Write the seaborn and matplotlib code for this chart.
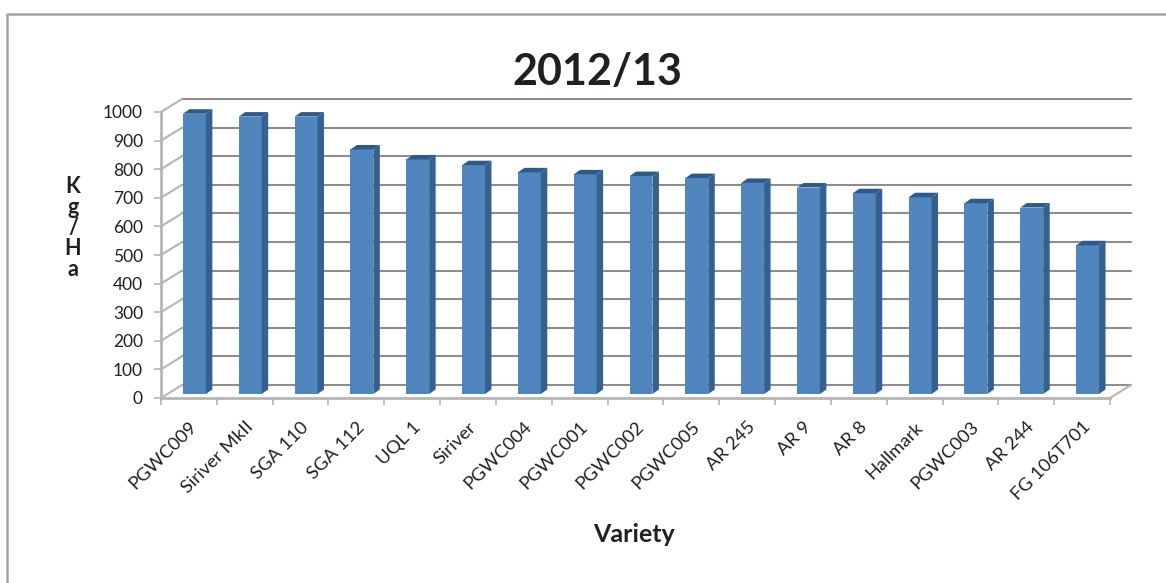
"""Yield per variety, 2012/13, drawn as a pseudo-3D column chart."""

import matplotlib
matplotlib.use("Agg")
import matplotlib.pyplot as plt
from matplotlib.patches import Polygon
from matplotlib.lines import Line2D
import pandas as pd
import seaborn as sns

varieties = ["PGWC009", "Siriver MkII", "SGA 110", "SGA 112", "UQL 1", "Siriver",
             "PGWC004", "PGWC001", "PGWC002", "PGWC005", "AR 245", "AR 9", "AR 8",
             "Hallmark", "PGWC003", "AR 244", "FG 106T701"]
yields = [980, 970, 970, 855, 820, 800, 775, 768, 762, 755, 738, 722, 702, 688, 667, 652, 520]
y_ticks = list(range(0, 1001, 100))

FACE = "#5085bd"
SIDE = "#35618f"
TOP = "#2f5a88"
GRID = "#8f8d8c"
WALL = "#b5b5b5"
TEXT = "#231f20"

W, H = 1166, 583
LEFT, RIGHT, BOTTOM, TOP_PX = 161, 1110, 398, 112

sns.set_theme(style="white")
plt.rcParams["font.family"] = ["Lato", "DejaVu Sans"]

fig = plt.figure(figsize=(W / 100, H / 100), dpi=100, facecolor="white")
ax = fig.add_axes([LEFT / W, 1 - BOTTOM / H, (RIGHT - LEFT) / W, (BOTTOM - TOP_PX) / H])

df = pd.DataFrame({"variety": varieties, "kg_ha": yields})
sns.barplot(data=df, x="variety", y="kg_ha", color=FACE, saturation=1, width=0.41,
            edgecolor="none", linewidth=0, ax=ax, zorder=3)

ax.set_xlim(-0.5, len(varieties) - 0.5)
ax.set_ylim(0, 1000)

# pixel -> data scale, used for the fake depth
px_x = (len(varieties)) / (RIGHT - LEFT)
px_y = 1000 / (BOTTOM - TOP_PX)
wall_dx, wall_dy = 21 * px_x, 13 * px_y
bar_dx, bar_dy = 5.5 * px_x, 4 * px_y
side_dx, side_dy = 6.5 * px_x, 4.5 * px_y

x0, x1 = ax.get_xlim()

# gridlines on the back wall, with the slanted bit on the side wall
for t in y_ticks:
    ax.add_line(Line2D([x0 + wall_dx, x1 + wall_dx], [t + wall_dy, t + wall_dy],
                       color=GRID, lw=1.5, clip_on=False, zorder=1))
    if t > 0:
        ax.add_line(Line2D([x0, x0 + wall_dx], [t, t + wall_dy],
                           color=WALL, lw=1.5, clip_on=False, zorder=1))

# side wall, floor
ax.add_line(Line2D([x0, x0 + wall_dx], [0, wall_dy], color=WALL, lw=1.5, clip_on=False, zorder=1))
ax.add_line(Line2D([x1, x1 + wall_dx], [0, wall_dy], color=WALL, lw=1.5, clip_on=False, zorder=1))

# shift the front faces onto the floor and add side and top faces
for patch, val in zip(ax.patches, yields):
    patch.set_x(patch.get_x() + bar_dx)
    patch.set_y(bar_dy)
    patch.set_height(val)
    patch.set_clip_on(False)
    xl = patch.get_x()
    xr = xl + patch.get_width()
    yb = bar_dy
    yt = bar_dy + val
    ax.add_patch(Polygon([(xr, yb), (xr + side_dx, yb + side_dy), (xr + side_dx, yt + side_dy), (xr, yt)],
                         closed=True, fc=SIDE, ec="none", clip_on=False, zorder=3))
    ax.add_patch(Polygon([(xl, yt), (xl + side_dx, yt + side_dy), (xr + side_dx, yt + side_dy), (xr, yt)],
                         closed=True, fc=TOP, ec="none", clip_on=False, zorder=3))

sns.despine(ax=ax, top=True, right=True)
for side in ["left", "bottom"]:
    ax.spines[side].set_color(WALL)
    ax.spines[side].set_linewidth(2)
    ax.spines[side].set_zorder(2)

ax.set_yticks(y_ticks)
ax.set_xticks([i - 0.5 for i in range(len(varieties) + 1)], minor=True)
ax.set_xticks(range(len(varieties)))
ax.set_xticklabels(varieties, rotation=45, ha="right", rotation_mode="anchor", fontsize=13.3, color=TEXT)
ax.tick_params(axis="x", which="major", length=0, pad=15)
ax.tick_params(axis="x", which="minor", length=5, width=1.2, color=WALL, bottom=True)
ax.tick_params(axis="y", length=5, width=1.2, color=WALL, left=True, labelsize=12.5, labelcolor=TEXT, pad=8)
ax.set_xlabel("")
ax.set_ylabel("")

fig.text(597 / W, 1 - 72 / H, "2012/13", fontsize=31, fontweight="bold", color=TEXT, ha="center", va="center")
fig.text(634 / W, 1 - 534 / H, "Variety", fontsize=18, fontweight="bold", color=TEXT, ha="center", va="center")
fig.text(73 / W, 1 - 228 / H, "K\ng\n/\nH\na", fontsize=15.5, fontweight="bold", color=TEXT,
         ha="center", va="center", linespacing=0.98)

# outer chart frame: only left and top are inside the crop
fig.add_artist(Line2D([7 / W, 7 / W, 1], [0, 1 - 13.5 / H, 1 - 13.5 / H], color="#a3a3a3", lw=1.8,
                      transform=fig.transFigure))

fig.savefig("out.png", dpi=100)
